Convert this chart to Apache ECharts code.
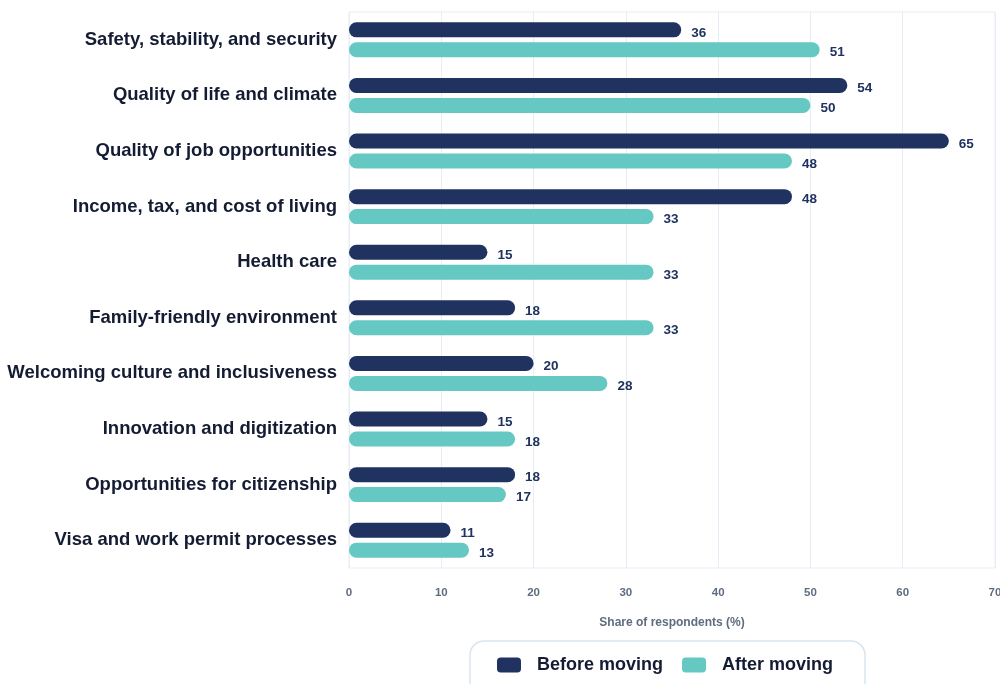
<!DOCTYPE html>
<html>
<head>
<meta charset="utf-8">
<script src="https://cdn.jsdelivr.net/npm/echarts@6/dist/echarts.min.js"></script>
<style>
  html, body { margin: 0; padding: 0; background: #ffffff; }
  #chart { width: 1000px; height: 684px; }
</style>
</head>
<body>
<div id="chart"></div>
<script>
// Reasons for choosing a destination, before and after moving
const categories = [
  'Safety, stability, and security',
  'Quality of life and climate',
  'Quality of job opportunities',
  'Income, tax, and cost of living',
  'Health care',
  'Family-friendly environment',
  'Welcoming culture and inclusiveness',
  'Innovation and digitization',
  'Opportunities for citizenship',
  'Visa and work permit processes'
];
const beforeMoving = [36, 54, 65, 48, 15, 18, 20, 15, 18, 11];
const afterMoving = [51, 50, 48, 33, 33, 33, 28, 18, 17, 13];
const xTicks = { min: 0, max: 70, interval: 10 };

const NAVY = '#1f3260';
const TEAL = '#66c8c2';
const TEXT = '#141c33';
const FONT = '"Liberation Sans", Arial, sans-serif';

const chart = echarts.init(document.getElementById('chart'), null, { renderer: 'canvas' });

function barSeries(name, data, color) {
  return {
    name: name,
    type: 'bar',
    data: data,
    barWidth: 15,
    barGap: '33%',
    itemStyle: { color: color, borderRadius: 8 },
    label: {
      show: true,
      position: 'right',
      distance: 10,
      offset: [0, 3],
      color: NAVY,
      fontFamily: FONT,
      fontWeight: 'bold',
      fontSize: 13.5
    }
  };
}

chart.setOption({
  animation: false,
  backgroundColor: '#ffffff',
  grid: {
    left: 349,
    right: 5,
    top: 12,
    bottom: 116,
    outerBoundsMode: 'none',
    containLabel: false,
    show: true,
    borderColor: '#e6edf4',
    borderWidth: 1
  },
  xAxis: {
    type: 'value',
    min: xTicks.min,
    max: xTicks.max,
    interval: xTicks.interval,
    axisLine: { show: false },
    axisTick: { show: false },
    splitLine: { lineStyle: { color: '#e6edf4', width: 1 } },
    axisLabel: {
      color: '#5f6c80',
      fontFamily: FONT,
      fontWeight: 'bold',
      fontSize: 11.5,
      margin: 19,
      hideOverlap: false
    },
    name: 'Share of respondents (%)',
    nameLocation: 'middle',
    nameGap: 49,
    nameTextStyle: {
      color: '#5f6c80',
      fontFamily: FONT,
      fontWeight: 'bold',
      fontSize: 12
    }
  },
  yAxis: {
    type: 'category',
    data: categories,
    inverse: true,
    axisLine: { show: false },
    axisTick: { show: false },
    splitLine: { show: false },
    axisLabel: {
      color: TEXT,
      fontFamily: FONT,
      fontWeight: 'bold',
      fontSize: 18.5,
      margin: 12
    }
  },
  legend: {
    left: 470,
    top: 641,
    itemWidth: 24,
    itemHeight: 15,
    itemGap: 19,
    icon: 'roundRect',
    padding: [15, 32, 24, 27],
    borderColor: '#d9e5ee',
    borderWidth: 1.5,
    borderRadius: 14,
    textStyle: {
      color: TEXT,
      fontFamily: FONT,
      fontWeight: 'bold',
      fontSize: 18,
      padding: [0, 0, 0, 11]
    },
    data: ['Before moving', 'After moving']
  },
  series: [
    barSeries('Before moving', beforeMoving, NAVY),
    barSeries('After moving', afterMoving, TEAL)
  ]
});
</script>
</body>
</html>
